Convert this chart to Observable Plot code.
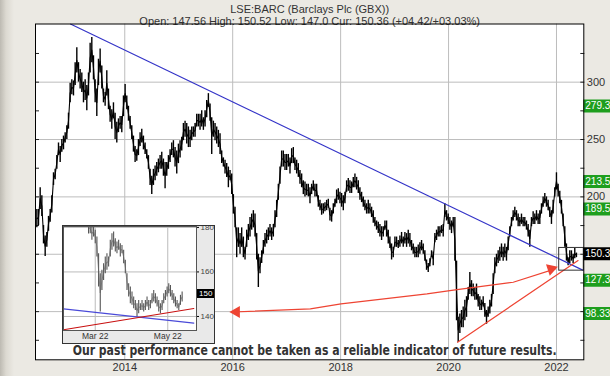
<!DOCTYPE html>
<html><head><meta charset="utf-8">
<script src="https://cdn.jsdelivr.net/npm/d3@7"></script>
<script src="https://cdn.jsdelivr.net/npm/@observablehq/plot@0.6"></script>
<style>
html,body{margin:0;padding:0;background:#fff;}
#wrap{position:relative;width:610px;height:376px;overflow:hidden;
 background:linear-gradient(to right,#bdbab2 0px,#dcd9d1 6px,#ebe9e3 14px,#ebe9e3 100%);}
#wrap svg{display:block;}
#inset{position:absolute;left:62px;top:225px;border:1px solid #333;line-height:0;}
</style></head><body><div id="wrap"></div>
<script>
// ---- text ----
const title = "LSE:BARC (Barclays Plc (GBX))";
const subtitle = "Open: 147.56 High: 150.52 Low: 147.0 Cur: 150.36 (+04.42/+03.03%)";
const footer = "Our past performance cannot be taken as a reliable indicator of future results.";

// ---- axes ----
const yearTicks = [2014, 2016, 2018, 2020, 2022];
const gridValues = [100, 150, 200, 250, 300];
const axisLabelValues = [200, 250, 300];
const minorTicks = [75, 125, 175, 225, 275, 325];

// ---- price series (GBp), sampled every ~11 days from mid-May 2012 ----
const firstYear = 2012.371;
const stepYears = 0.03086;
const highs = [189,189,208,201,175,166,169,183,189,201,221,224,236,247,244,250,253,256,262,273,299,302,301,317,330,317,311,308,300,302,297,308,334,339,323,302,294,320,329,314,294,291,310,294,279,276,282,273,265,268,270,270,288,298,288,279,270,262,253,244,241,250,256,259,253,247,241,236,224,218,224,227,230,233,236,239,233,230,230,236,241,247,
249,243,240,246,249,252,264,266,264,261,258,261,261,264,272,272,272,275,269,275,284,290,281,269,266,264,261,258,255,240,234,232,229,226,223,220,202,191,173,173,168,173,165,156,171,176,182,185,188,185,168,150,147,153,162,168,171,173,176,173,176,188,197,211,226,240,240,237,237,237,234,242,243,234,232,229,223,220,214,213,211,211,208,211,214,
211,211,201,197,194,194,195,197,198,190,188,194,198,206,207,204,203,201,204,214,216,214,213,217,220,217,214,208,204,200,197,194,197,194,191,188,182,179,178,176,174,174,179,179,171,165,159,156,165,165,162,166,169,165,169,168,171,168,162,159,156,156,158,160,162,159,153,145,142,146,153,152,168,171,174,174,175,176,194,188,185,182,179,182,
182,144,95,98,101,104,110,113,121,134,127,124,121,124,115,113,110,113,107,101,104,110,115,133,147,150,153,156,159,156,159,156,165,174,182,188,191,188,185,182,185,182,182,179,176,171,182,187,185,188,185,188,194,200,203,200,197,191,188,197,208,221,211,205,197,185,174,159,147,153,153,150,155,151];
const lows = [173,175,189,183,159,148,156,170,178,186,210,215,224,236,230,239,241,247,250,259,282,289,288,297,308,300,294,291,282,284,275,288,308,317,302,282,270,297,308,294,282,279,288,276,265,259,268,250,247,256,259,256,270,282,276,266,259,250,239,230,231,236,244,247,241,237,233,224,210,202,210,214,218,221,224,224,218,207,218,224,230,236,
234,226,220,229,234,240,249,252,246,243,243,249,252,252,261,261,258,261,258,261,269,278,266,237,252,249,246,243,237,229,226,220,217,208,214,202,185,173,147,156,150,156,147,145,156,162,165,171,173,165,145,121,133,142,150,156,159,162,165,162,165,173,182,197,211,226,226,223,223,226,220,229,229,223,220,217,211,208,202,200,201,200,194,202,205,
200,200,191,188,184,185,187,188,190,179,178,185,191,194,197,194,191,188,194,204,205,203,203,208,208,206,203,197,195,191,188,185,185,185,182,177,174,171,168,165,162,165,171,165,159,155,145,147,156,156,155,156,159,156,159,156,159,156,153,150,147,147,147,150,153,150,144,136,134,139,147,140,160,162,165,165,168,165,182,179,176,171,168,174,
144,92,73,81,86,86,92,95,110,115,113,113,110,110,104,101,101,104,95,89,95,98,104,115,133,139,142,144,147,144,147,144,153,165,174,179,182,179,174,174,176,174,174,171,165,156,174,176,176,179,176,176,185,191,194,191,188,182,176,185,200,206,200,194,185,174,156,144,140,142,144,142,146,147];

// ---- levels / annotations ----
const levelValues = [279.3, 213.5, 189.5, 127.3, 98.33];
const levelLabels = ["279.3", "213.5", "189.5", "127.3", "98.33"];
const currentValue = 150.36;
const currentLabel = "150.3";
const insetCurrentLabel = "150";
const resistanceYears = [2012.994, 2022.506];
const resistanceValues = [350.7, 135.7];
const supportYears = [2020.167, 2022.40];
const supportValues = [73.3, 144.5];
const arrowYears = [2015.994, 2017.439, 2018.007, 2019.600, 2020.124, 2021.198, 2021.976];
const arrowValues = [99.65, 102.4, 106.8, 115.5, 119.0, 125.6, 137.3];
const boxYears = [2022.05, 2022.506];
const boxValues = [135.7, 155.5];

// ---- inset (daily bars, late Feb to mid May 2022) ----
const insetHighs = [183,181.6,180.2,180.9,178.7,175.7,168.2,159.2,160.7,163.7,166.7,168.2,166.7,174.2,177.2,177.9,174.9,173.4,174.2,172.7,171.9,169.7,165.2,159.2,154.7,153.2,151,148.7,147.2,145.7,147.2,145.7,147.2,145.7,147.2,148.7,147.2,147.2,150.2,151.7,150.2,148.7,147.2,145.7,147.2,150.2,151.7,153.2,154.7,153.9,151.7,150.2,148.7,147.2,145.7,149.5,151];
const insetLows = [177,177.2,174.2,175.7,172.7,166.7,153.2,142,151.7,156.2,159.2,160.7,162.2,166.7,169.7,171.2,168.9,168.2,169.7,166.7,168.2,163.7,159.2,151.7,148.7,145.7,145,143.5,142.7,139.7,141.2,142.7,142.7,142,142.7,144.2,142.7,143.5,145.7,146.5,145.7,144.2,142,141.2,142.7,145.7,147.2,148.7,150.2,148.7,147.2,145.7,144.2,143.5,142.7,145,146.5];
const insetMonthIdx = [4, 47.4];
const insetMonthLabels = ["Mar 22", "May 22"];
const insetTickValues = [140, 160, 180];
const insetBlueIdx = [-15, 63], insetBlueValues = [143.4, 137.0];
const insetRedIdx = [-15, 63], insetRedValues = [134.0, 143.6];

// ================= build =================
const fontUI = "'Liberation Sans', Arial, sans-serif";
const xMin = 2012.346, xMax = 2022.506;
const series = highs.map((h, i) => ({t: firstYear + i * stepYears, hi: h, lo: lows[i]}));
const levels = levelValues.map((v, i) => ({v, label: levelLabels[i]}));
const pairs = (xs, ys) => xs.map((x, i) => ({x, y: ys[i]}));
const red = "#ee4433", blue = "#3535c8", green = "#1e9e1e";
const arrowPts = pairs(arrowYears, arrowValues);

const chart = Plot.plot({
  width: 610, height: 376,
  marginTop: 23.5, marginRight: 26.7, marginBottom: 16.7, marginLeft: 35,
  x: {type: "linear", domain: [xMin, xMax]},
  y: {type: "linear", domain: [58, 350.7]},
  style: {background: "none", fontFamily: fontUI, overflow: "hidden"},
  marks: [
    Plot.frame({fill: "white", stroke: null}),
    Plot.gridX(yearTicks, {stroke: "#bdbdbd", strokeOpacity: 1}),
    Plot.gridY(gridValues, {stroke: "#bdbdbd", strokeOpacity: 1}),
    Plot.axisX(yearTicks, {tickSize: 0, tickPadding: 3, tickFormat: d => String(d), fontSize: 11, fill: "#333", label: null}),
    Plot.axisY(minorTicks.concat(gridValues), {anchor: "left", tickSize: 4, dx: 4, tickFormat: () => "", label: null, stroke: "#222"}),
    Plot.axisY(minorTicks.concat(gridValues), {anchor: "right", tickSize: 4, dx: -4, tickFormat: () => "", label: null, stroke: "#222"}),
    // price
    Plot.ruleX(series, {x: "t", y1: "lo", y2: "hi", stroke: "#000", strokeWidth: 1.4}),
    Plot.line(series, {x: "t", y: d => (d.lo + d.hi) / 2, stroke: "#000", strokeWidth: 1.1}),
    // trend lines
    Plot.line(pairs(resistanceYears, resistanceValues), {x: "x", y: "y", stroke: blue, strokeWidth: 1.2, clip: true}),
    Plot.line(pairs(supportYears, supportValues), {x: "x", y: "y", stroke: red, strokeWidth: 1.2}),
    Plot.line(arrowPts, {x: "x", y: "y", stroke: red, strokeWidth: 1.2}),
    Plot.dot([arrowPts[0]], {x: "x", y: "y", symbol: "triangle", r: 4.5, fill: red, stroke: null, rotate: -90, dx: 4}),
    Plot.dot([arrowPts[arrowPts.length - 1]], {x: "x", y: "y", symbol: "triangle", r: 4.5, fill: red, stroke: null, rotate: 72, dx: -4}),
    Plot.rect([{x1: boxYears[0], x2: boxYears[1], y1: boxValues[0], y2: boxValues[1]}], {x1: "x1", x2: "x2", y1: "y1", y2: "y2", fill: "none", stroke: "#333"}),
    // level labels on the right
    Plot.ruleY(levels, {y: "v", x1: xMax, x2: xMax + 1, stroke: green, strokeWidth: 13}),
    Plot.ruleY([currentValue], {x1: xMax, x2: xMax + 1, stroke: "#000", strokeWidth: 13}),
    Plot.text(levels, {x: xMax, y: "v", text: "label", textAnchor: "start", dx: 1.5, fill: "#fff", fontSize: 10}),
    Plot.text([currentValue], {x: xMax, y: d => d, text: () => currentLabel, textAnchor: "start", dx: 1.5, fill: "#fff", fontSize: 10}),
    Plot.text(axisLabelValues, {x: xMax, y: d => d, text: d => String(d), textAnchor: "start", dx: 3, fill: "#333", fontSize: 11}),
    // titles
    Plot.text([title], {frameAnchor: "top", dy: -19, fontSize: 11, fill: "#333"}),
    Plot.text([subtitle], {frameAnchor: "top", dy: -7, fontSize: 11, fill: "#333"}),
    Plot.text([footer], {frameAnchor: "bottom", dy: -4.5, dx: 5, lineAnchor: "bottom", fontSize: 14, fontWeight: "bold", fill: "#333", fontFamily: "'Liberation Sans Narrow', 'DejaVu Sans Condensed', sans-serif"}),
    Plot.frame({stroke: "#000"})
  ]
});
// squeeze the disclaimer to the narrow width it has in the original
chart.querySelectorAll("text").forEach(t => {
  if (t.textContent === footer) { t.setAttribute("textLength", "484"); t.setAttribute("lengthAdjust", "spacingAndGlyphs"); }
});

const insetRows = insetHighs.map((h, i) => ({i, hi: h, lo: insetLows[i]}));
const inset = Plot.plot({
  width: 151, height: 117,
  marginTop: 0, marginRight: 18, marginBottom: 13, marginLeft: 0,
  x: {type: "linear", domain: [-15, 64.6]},
  y: {type: "linear", domain: [133.7, 180.4]},
  style: {background: "#e9e9e9", fontFamily: fontUI, overflow: "hidden"},
  marks: [
    Plot.frame({fill: "white", stroke: null}),
    Plot.gridX(insetMonthIdx, {stroke: "#bbb", strokeOpacity: 1}),
    Plot.gridY(insetTickValues, {stroke: "#bbb", strokeOpacity: 1}),
    Plot.ruleX(insetRows, {x: "i", y1: "lo", y2: "hi", stroke: "#555", strokeWidth: 1.1, clip: true}),
    Plot.line(insetRows, {x: "i", y: d => (d.lo + d.hi) / 2, stroke: "#666", strokeWidth: 0.7, clip: true}),
    Plot.line(pairs(insetBlueIdx, insetBlueValues), {x: "x", y: "y", stroke: "#4a4ad8", strokeWidth: 1.1}),
    Plot.line(pairs(insetRedIdx, insetRedValues), {x: "x", y: "y", stroke: "#c81010", strokeWidth: 1.1}),
    Plot.axisX(insetMonthIdx, {tickSize: 0, tickPadding: 2, tickFormat: (d, i) => insetMonthLabels[i], fontSize: 8.5, fill: "#333", label: null}),
    Plot.axisY(insetTickValues, {anchor: "right", tickSize: 2, tickPadding: 2, fontSize: 8, fill: "#444", label: null, lineAnchor: "middle"}),
    Plot.ruleY([currentValue], {x1: 64.6, x2: 90, stroke: "#000", strokeWidth: 9}),
    Plot.text([currentValue], {x: 64.6, y: d => d, text: () => insetCurrentLabel, textAnchor: "start", dx: 2.5, fill: "#fff", fontSize: 8}),
    Plot.frame({stroke: "#555"})
  ]
});
inset.id = "inset";
const wrap = document.getElementById("wrap");
wrap.appendChild(chart);
wrap.appendChild(inset);
</script></body></html>
